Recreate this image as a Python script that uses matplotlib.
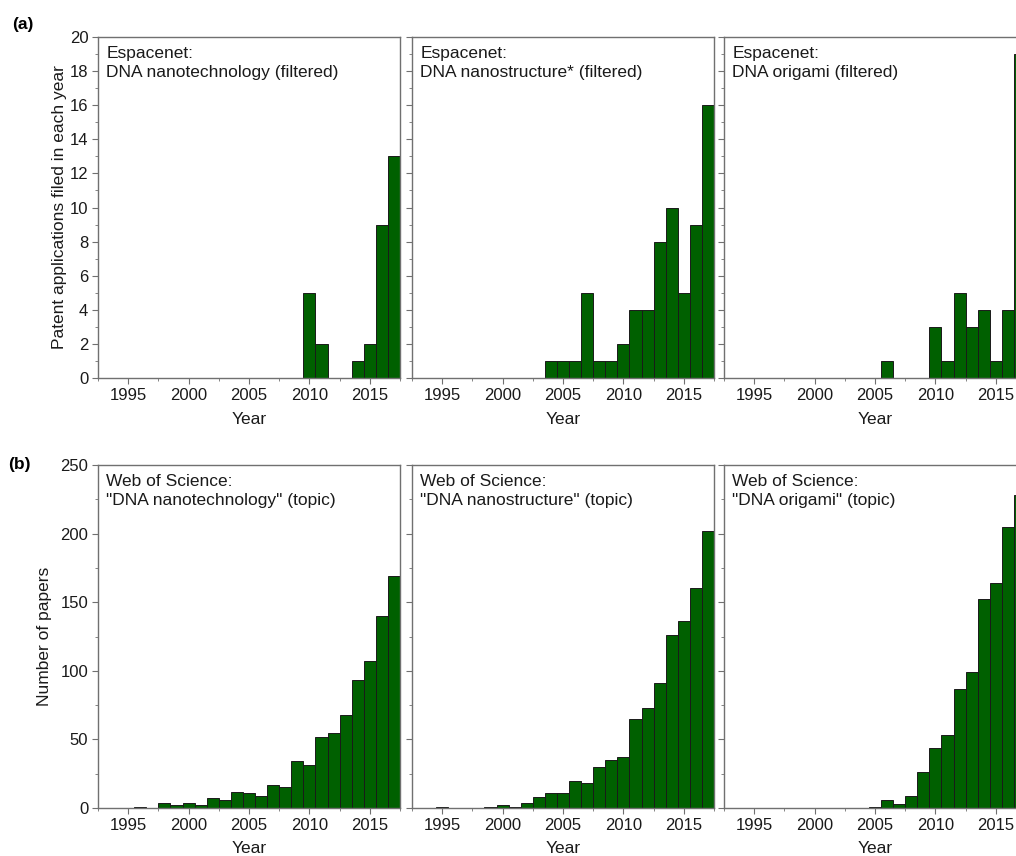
import numpy as np
import matplotlib.pyplot as plt
from matplotlib.ticker import MultipleLocator

plt.rcParams['font.family'] = ['Liberation Sans', 'DejaVu Sans']

years = np.arange(1993, 2018)

# Espacenet patent applications (filtered)
pat_nanotech = {2010: 5, 2011: 2, 2014: 1, 2015: 2, 2016: 9, 2017: 13}
pat_nanostruct = {2004: 1, 2005: 1, 2006: 1, 2007: 5, 2008: 1, 2009: 1, 2010: 2,
                  2011: 4, 2012: 4, 2013: 8, 2014: 10, 2015: 5, 2016: 9, 2017: 16}
pat_origami = {2006: 1, 2010: 3, 2011: 1, 2012: 5, 2013: 3, 2014: 4, 2015: 1,
               2016: 4, 2017: 19}

# Web of Science papers (topic)
wos_nanotech = {1996: 1, 1998: 4, 1999: 2, 2000: 4, 2001: 2, 2002: 7, 2003: 6,
                2004: 12, 2005: 11, 2006: 9, 2007: 17, 2008: 15, 2009: 34,
                2010: 31, 2011: 52, 2012: 55, 2013: 68, 2014: 93, 2015: 107,
                2016: 140, 2017: 169}
wos_nanostruct = {1995: 1, 1999: 1, 2000: 2, 2001: 1, 2002: 4, 2003: 8, 2004: 11,
                  2005: 11, 2006: 20, 2007: 18, 2008: 30, 2009: 35, 2010: 37,
                  2011: 65, 2012: 73, 2013: 91, 2014: 126, 2015: 136, 2016: 160,
                  2017: 202}
wos_origami = {2005: 1, 2006: 6, 2007: 3, 2008: 9, 2009: 26, 2010: 44, 2011: 53,
               2012: 87, 2013: 99, 2014: 152, 2015: 164, 2016: 205, 2017: 228}

top_titles = ["Espacenet:\nDNA nanotechnology (filtered)",
              "Espacenet:\nDNA nanostructure* (filtered)",
              "Espacenet:\nDNA origami (filtered)"]
bot_titles = ["Web of Science:\n\"DNA nanotechnology\" (topic)",
              "Web of Science:\n\"DNA nanostructure\" (topic)",
              "Web of Science:\n\"DNA origami\" (topic)"]

W, H = 1016, 856
fig = plt.figure(figsize=(W / 100, H / 100), dpi=100)

lefts = [98, 412, 724]
pw = 302
rows = [(37, 378), (465, 808)]
green = '#006000'
spine_col = '#707070'
txt_col = '#1a1a1a'


def panel(left, top, bottom, data, title, ymax, ymaj, ymin, show_y):
    ax = fig.add_axes([left / W, 1 - bottom / H, pw / W, (bottom - top) / H])
    vals = [data.get(y, 0) for y in years]
    ax.bar(years, vals, width=1.0, color=green, edgecolor='#1a1a1a', linewidth=0.7)
    ax.set_xlim(1992.5, 2017.5)
    ax.set_ylim(0, ymax)
    ax.xaxis.set_major_locator(MultipleLocator(5))
    ax.xaxis.set_minor_locator(MultipleLocator(2.5))
    ax.yaxis.set_major_locator(MultipleLocator(ymaj))
    ax.yaxis.set_minor_locator(MultipleLocator(ymin))
    ax.tick_params(which='both', direction='out', color=spine_col, labelsize=12,
                   labelcolor=txt_col)
    ax.tick_params(which='major', length=4, pad=3)
    ax.tick_params(which='minor', length=2)
    if not show_y:
        ax.set_yticklabels([])
    for s in ax.spines.values():
        s.set_color(spine_col)
        s.set_linewidth(1.0)
    ax.set_xlabel('Year', fontsize=12.5, labelpad=7, color=txt_col)
    ax.text(0.027, 0.975, title, transform=ax.transAxes, va='top', ha='left',
            fontsize=12.5, linespacing=1.35, color=txt_col)
    return ax


top_data = [pat_nanotech, pat_nanostruct, pat_origami]
bot_data = [wos_nanotech, wos_nanostruct, wos_origami]

for i in range(3):
    panel(lefts[i], rows[0][0], rows[0][1], top_data[i], top_titles[i], 20, 2, 1, i == 0)
    ax = panel(lefts[i], rows[1][0], rows[1][1], bot_data[i], bot_titles[i], 250, 50, 25, i == 0)
    # bottom row: the reference puts the label right at the lower edge
    ax.xaxis.set_label_coords(0.5, -(853 - 808) / (808 - 465))
    ax.xaxis.label.set_va('baseline')

fig.text(60 / W, 1 - 207 / H, 'Patent applications filed in each year', rotation=90,
         ha='center', va='center', fontsize=12.5, color=txt_col)
fig.text(45 / W, 1 - 636 / H, 'Number of papers', rotation=90,
         ha='center', va='center', fontsize=12.5, color=txt_col)
fig.text(12 / W, 1 - 25 / H, '(a)', fontsize=12.5, fontweight='bold', va='center')
fig.text(8 / W, 1 - 465 / H, '(b)', fontsize=12.5, fontweight='bold', va='center')

fig.savefig('out.png', dpi=100)
